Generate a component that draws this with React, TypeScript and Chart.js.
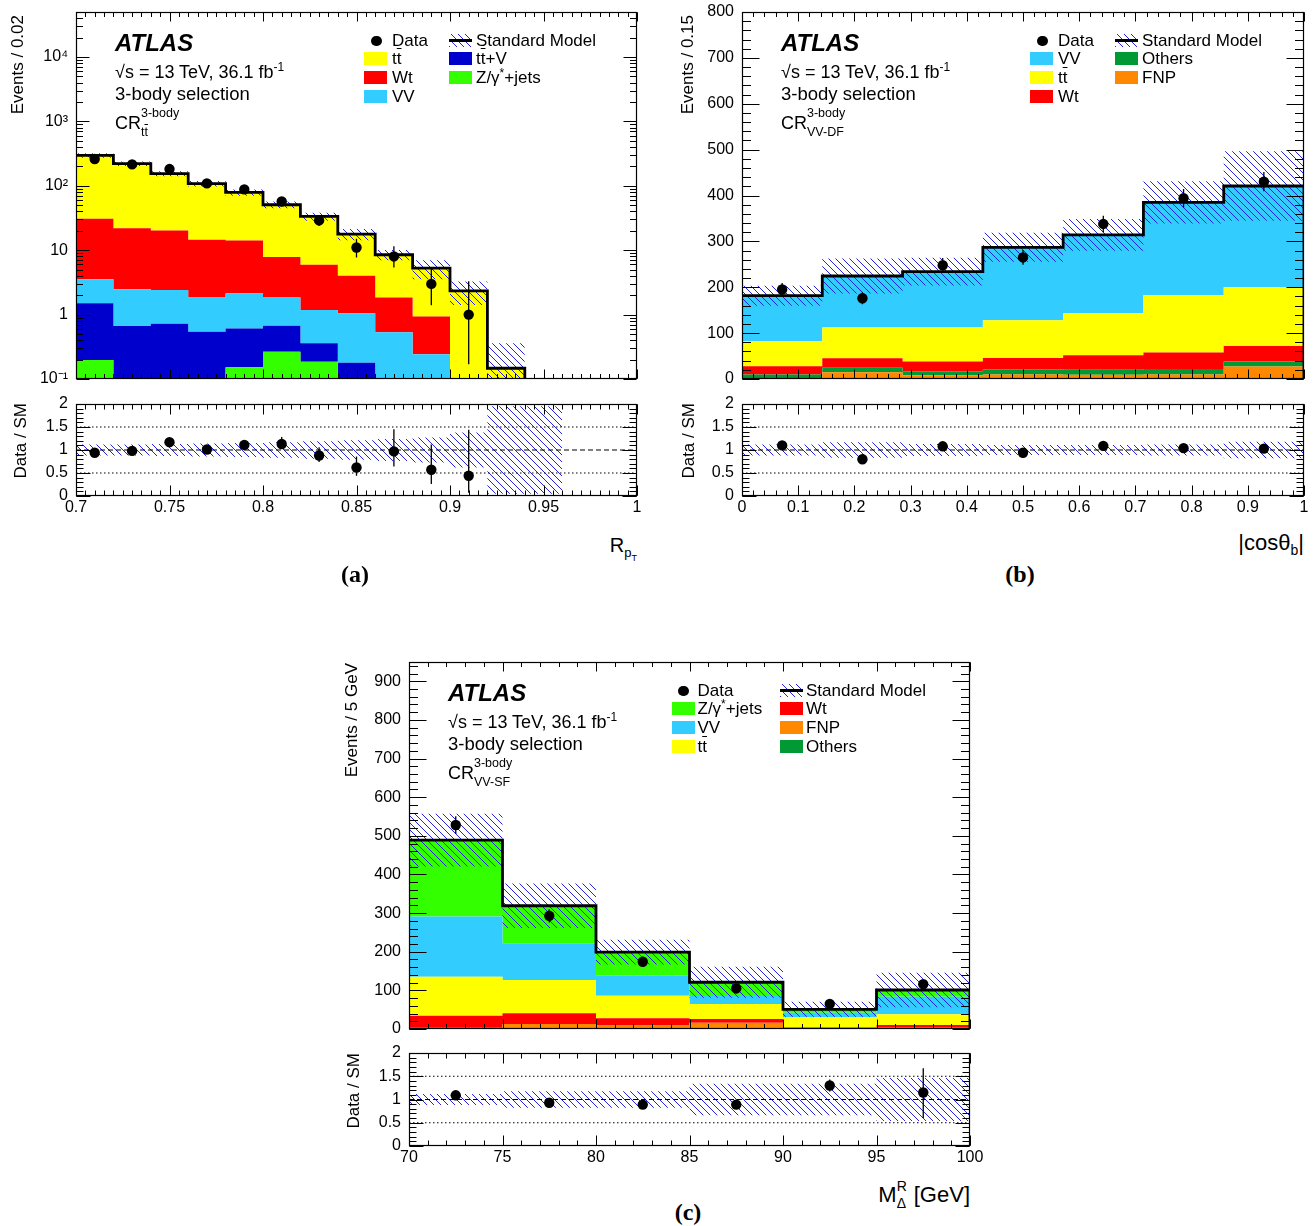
import React, { useEffect, useRef } from 'react';
import { Chart, registerables } from 'chart.js';

Chart.register(...registerables);

const W = 1316;
const H = 1226;
const SANS = '"Liberation Sans", Arial, Helvetica, sans-serif';
const SERIF = '"Liberation Serif", "Times New Roman", Times, serif';

/* ---------------- panel (a): R_pT in CR_tt (log scale) ---------------- */
const binEdgesA = [0.70, 0.72, 0.74, 0.76, 0.78, 0.80, 0.82, 0.84, 0.86, 0.88, 0.90, 0.92, 0.94];
const zjetsA = [0.197, 0, 0, 0, 0.152, 0.266, 0.186, 0, 0, 0, 0, 0];
const ttVA = [1.30, 0.667, 0.72, 0.54, 0.458, 0.404, 0.174, 0.179, 0, 0, 0, 0];
const vvA = [2.05, 1.81, 1.70, 1.30, 1.54, 1.17, 0.82, 0.87, 0.53, 0.242, 0, 0];
const wtA = [27.2, 19.5, 17.9, 12.7, 12.0, 6.0, 4.75, 2.95, 1.31, 0.69, 0, 0];
const ttbarA = [266, 199, 134, 93.5, 64.8, 43, 27.5, 13.8, 6.66, 4.34, 2.34, 0.147];
const dataA = [261, 215, 182, 109, 88, 57, 29, 11, 8, 3, 1];
const dataLoA = [245, 201, 169, 99, 79, 50, 24, 7.7, 5.4, 1.4, 0.17];
const dataHiA = [277, 230, 196, 120, 98, 65, 35, 15, 11.5, 5.3, 3.3];
const systA = [0.08, 0.08, 0.09, 0.10, 0.11, 0.12, 0.14, 0.20, 0.18, 0.33, 0.40, 1.45];
const ratioA = [0.94, 0.98, 1.17, 1.01, 1.11, 1.13, 0.88, 0.62, 0.97, 0.57, 0.44];
const ratioLoA = [0.88, 0.92, 1.10, 0.93, 1.02, 1.03, 0.74, 0.44, 0.64, 0.26, 0.07];
const ratioHiA = [1.00, 1.04, 1.24, 1.09, 1.20, 1.28, 1.06, 0.86, 1.45, 1.12, 1.44];
const ratioBandEdgesA = [0.70, 0.72, 0.74, 0.76, 0.78, 0.80, 0.82, 0.84, 0.86, 0.88, 0.90, 0.92, 0.96];
const ratioBandA = [0.12, 0.12, 0.13, 0.14, 0.15, 0.17, 0.19, 0.21, 0.24, 0.27, 0.38, 0.95];
const xTicksA = [0.7, 0.75, 0.8, 0.85, 0.9, 0.95, 1];
const xLabelsA = ['0.7', '0.75', '0.8', '0.85', '0.9', '0.95', '1'];
const yTicksA = [0.1, 1, 10, 100, 1000, 10000];
const yLabelsA = ['10\u207B\u00B9', '1', '10', '10\u00B2', '10\u00B3', '10\u2074'];

/* ---------------- panel (b): |cos theta_b| in CR_VV-DF ---------------- */
const binEdgesB = [0, 0.142857, 0.285714, 0.428571, 0.571429, 0.714286, 0.857143, 1];
const fnpB = [1, 14.5, 8, 10, 9, 10, 27];
const othersB = [9, 10, 9, 11, 11, 12, 11];
const wtB = [18, 20.5, 21, 25, 32, 36, 34];
const ttbarB = [55, 67, 74, 82, 92, 125, 128];
const vvB = [98.6, 112.5, 122, 159, 170, 202, 220.7];
const dataB = [195, 176, 248, 265, 338, 394, 430];
const dataErrB = [14, 13, 16, 16, 18, 20, 21];
const systB = [0.12, 0.17, 0.13, 0.11, 0.11, 0.12, 0.18];
const ratioB = [1.1, 0.8, 1.08, 0.94, 1.09, 1.04, 1.03];
const ratioErrB = [0.08, 0.06, 0.07, 0.06, 0.06, 0.05, 0.05];
const ratioBandB = [0.12, 0.17, 0.13, 0.11, 0.11, 0.12, 0.18];
const xTicksB = [0, 0.1, 0.2, 0.3, 0.4, 0.5, 0.6, 0.7, 0.8, 0.9, 1];
const xLabelsB = ['0', '0.1', '0.2', '0.3', '0.4', '0.5', '0.6', '0.7', '0.8', '0.9', '1'];
const yTicksB = [0, 100, 200, 300, 400, 500, 600, 700, 800];
const yLabelsB = ['0', '100', '200', '300', '400', '500', '600', '700', '800'];

/* ---------------- panel (c): M_Delta^R in CR_VV-SF ---------------- */
const binEdgesC = [70, 75, 80, 85, 90, 95, 100];
const othersC = [3, 1, 1, 1, 1, 2];
const fnpC = [0, 12, 8, 15, 1, 1];
const wtC = [31, 28, 19, 10, 2, 7.5];
const ttbarC = [101, 86, 58, 39, 26, 28];
const vvC = [156, 95, 52, 23, 12, 45];
const zjetsC = [198, 97, 61, 33, 9, 17.5];
const dataC = [528, 293, 174, 105, 65, 116];
const dataErrC = [23, 17, 13, 10, 8, 11];
const systC = [0.14, 0.18, 0.16, 0.33, 0.38, 0.44];
const ratioC = [1.09, 0.93, 0.89, 0.89, 1.3, 1.15];
const ratioLoC = [1.04, 0.87, 0.82, 0.80, 1.17, 0.60];
const ratioHiC = [1.14, 0.99, 0.96, 0.98, 1.43, 1.67];
const ratioBandC = [0.12, 0.18, 0.18, 0.34, 0.34, 0.46];
const xTicksC = [70, 75, 80, 85, 90, 95, 100];
const xLabelsC = ['70', '75', '80', '85', '90', '95', '100'];
const yTicksC = [0, 100, 200, 300, 400, 500, 600, 700, 800, 900];
const yLabelsC = ['0', '100', '200', '300', '400', '500', '600', '700', '800', '900'];

/* ---------------- ratio axis ---------------- */
const ratioTicks = [0, 0.5, 1, 1.5, 2];
const ratioLabels = ['0', '0.5', '1', '1.5', '2'];
const ratioRefLines = [0.5, 1, 1.5];

/* ---------------- colours ---------------- */
const C_TT = '#ffff00';
const C_WT = '#ff0000';
const C_VV = '#33ccff';
const C_TTV = '#0000cc';
const C_Z = '#33ff00';
const C_OTH = '#009933';
const C_FNP = '#ff8800';
const HATCH_COL = 'rgb(35,35,225)';

/* ---------------- layout ---------------- */
type Rect = [number, number, number, number];
const RECT: Record<string, Rect> = {
  aMain: [76, 12, 637, 379],
  aRatio: [76, 404, 637, 496],
  bMain: [742, 12, 1304, 379],
  bRatio: [742, 404, 1304, 496],
  cMain: [409, 662, 970, 1029],
  cRatio: [409, 1053, 970, 1146],
};
const PADL = 70, PADT = 22, PADR = 26, PADB = 30;

function makeHatch(): any {
  const s = 7;
  const c = document.createElement('canvas');
  c.width = s;
  c.height = s;
  const g = c.getContext('2d');
  if (!g) return 'rgba(40,40,230,0.4)';
  g.strokeStyle = HATCH_COL;
  g.lineWidth = 1;
  g.beginPath();
  g.moveTo(0, 0); g.lineTo(s, s);
  g.moveTo(-1, s - 1); g.lineTo(1, s + 1);
  g.moveTo(s - 1, -1); g.lineTo(s + 1, 1);
  g.stroke();
  return g.createPattern(c, 'repeat') || 'rgba(40,40,230,0.4)';
}

function steps(edges: number[], vals: number[]) {
  const pts: any[] = vals.map((v, i) => ({ x: edges[i], y: v }));
  pts.push({ x: edges[vals.length], y: vals[vals.length - 1] });
  return pts;
}

function seq(a: number, b: number, step: number): number[] {
  const out: number[] = [];
  const n = Math.round((b - a) / step);
  for (let i = 0; i <= n; i++) out.push(+(a + i * step).toFixed(6));
  return out;
}

function logMinor(min: number, max: number): number[] {
  const out: number[] = [];
  for (let e = -2; e <= 5; e++) {
    for (let k = 2; k <= 9; k++) {
      const v = k * Math.pow(10, e);
      if (v > min && v < max) out.push(v);
    }
  }
  return out;
}

interface Axis {
  min: number; max: number; ticks: number[]; labels: string[]; minor: number[];
  log?: boolean; show: boolean; maj: number; mn: number;
}

function framePlugin(x: Axis, y: Axis) {
  return {
    id: 'rootFrame',
    afterDatasetsDraw(chart: any) {
      const { ctx, chartArea: a } = chart;
      const xs = chart.scales.x;
      const ys = chart.scales.y;
      const L = Math.round(a.left) + 0.5;
      const R = Math.round(a.right) - 0.5;
      const T = Math.round(a.top) + 0.5;
      const B = Math.round(a.bottom) - 0.5;
      ctx.save();
      ctx.strokeStyle = '#000';
      ctx.lineWidth = 1;
      ctx.beginPath();
      const xt = (v: number, len: number) => {
        const p = Math.round(xs.getPixelForValue(v)) + 0.5;
        if (p < L - 1 || p > R + 1) return;
        ctx.moveTo(p, B); ctx.lineTo(p, B - len);
        ctx.moveTo(p, T); ctx.lineTo(p, T + len);
      };
      const yt = (v: number, len: number) => {
        const p = Math.round(ys.getPixelForValue(v)) + 0.5;
        if (p < T - 1 || p > B + 1) return;
        ctx.moveTo(L, p); ctx.lineTo(L + len, p);
        ctx.moveTo(R, p); ctx.lineTo(R - len, p);
      };
      x.ticks.forEach((v) => xt(v, x.maj));
      x.minor.forEach((v) => xt(v, x.mn));
      y.ticks.forEach((v) => yt(v, y.maj));
      y.minor.forEach((v) => yt(v, y.mn));
      ctx.stroke();
      ctx.lineWidth = 1.2;
      ctx.strokeRect(L, T, R - L, B - T);
      ctx.restore();
    },
  };
}

function baseOptions(x: Axis, y: Axis) {
  return {
    responsive: false,
    maintainAspectRatio: false,
    animation: false,
    devicePixelRatio: 1,
    events: [],
    layout: { padding: { left: 0, top: PADT, right: PADR, bottom: 0 } },
    plugins: { legend: { display: false }, tooltip: { enabled: false } },
    scales: {
      x: {
        type: 'linear',
        min: x.min,
        max: x.max,
        afterBuildTicks: (s: any) => { s.ticks = x.ticks.map((v) => ({ value: v })); },
        afterFit: (s: any) => { s.height = PADB; },
        ticks: {
          display: x.show, autoSkip: false, maxRotation: 0, minRotation: 0, padding: 2,
          font: { size: 16, family: SANS }, color: '#000',
          callback: (_v: any, i: number) => x.labels[i],
        },
        grid: { display: false, drawTicks: false },
        border: { display: false },
      },
      y: {
        type: y.log ? 'logarithmic' : 'linear',
        min: y.min,
        max: y.max,
        afterBuildTicks: (s: any) => { s.ticks = y.ticks.map((v) => ({ value: v })); },
        afterFit: (s: any) => { s.width = PADL; },
        ticks: {
          display: y.show, autoSkip: false, padding: 8,
          font: { size: 16, family: SANS }, color: '#000',
          callback: (_v: any, i: number) => y.labels[i],
        },
        grid: { display: false, drawTicks: false },
        border: { display: false },
      },
    },
  };
}

function errorBarSet(centers: number[], lo: number[], hi: number[]) {
  const pts: any[] = [];
  centers.forEach((c, i) => {
    pts.push({ x: c, y: lo[i] }, { x: c, y: hi[i] }, { x: c, y: null });
  });
  return {
    data: pts, borderColor: '#000', borderWidth: 1.3, pointRadius: 0, fill: false,
    spanGaps: false, order: 1,
  };
}

function pointSet(centers: number[], vals: number[]) {
  return {
    data: centers.map((c, i) => ({ x: c, y: vals[i] })),
    showLine: false, pointRadius: 5.2, pointBackgroundColor: '#000', pointBorderColor: '#000',
    pointBorderWidth: 0, borderWidth: 0, order: 0,
  };
}

interface Comp { vals: number[]; color: string; }

function mainConfig(edges: number[], comps: Comp[], data: number[], lo: number[], hi: number[],
  syst: number[], x: Axis, y: Axis, hatch: any) {
  const fl = (v: number) => (y.log ? Math.max(v, 1e-4) : v);
  const cum: number[][] = [];
  comps.forEach((c, k) => cum.push(c.vals.map((v, i) => v + (k ? cum[k - 1][i] : 0))));
  const sm = cum[cum.length - 1];
  const n = sm.length;
  const datasets: any[] = [];
  comps.forEach((c, k) => datasets.push({
    data: steps(edges, cum[k].map(fl)), stepped: true, fill: k === 0 ? 'start' : '-1',
    backgroundColor: c.color, borderColor: 'transparent', borderWidth: 0, pointRadius: 0, order: 10,
  }));
  datasets.push({
    data: steps(edges, sm.map((v, i) => v * (1 + syst[i]))), stepped: true, fill: false,
    borderColor: 'transparent', borderWidth: 0, pointRadius: 0, order: 5,
  });
  datasets.push({
    data: steps(edges, sm.map((v, i) => fl(v * (1 - syst[i])))), stepped: true, fill: '-1',
    backgroundColor: hatch, borderColor: 'transparent', borderWidth: 0, pointRadius: 0, order: 5,
  });
  const smPts = steps(edges, sm.map(fl));
  smPts.push({ x: edges[n], y: fl(0) });
  datasets.push({
    data: smPts, stepped: true, fill: false, borderColor: '#000', borderWidth: 2.8,
    pointRadius: 0, order: 2, borderJoinStyle: 'miter', borderCapStyle: 'butt',
  });
  const centers = data.map((_, i) => (edges[i] + edges[i + 1]) / 2);
  datasets.push(errorBarSet(centers, lo, hi));
  datasets.push(pointSet(centers, data));
  return { type: 'line', data: { datasets }, options: baseOptions(x, y), plugins: [framePlugin(x, y)] };
}

function ratioConfig(bandEdges: number[], band: number[], edges: number[], r: number[], lo: number[],
  hi: number[], x: Axis, y: Axis, hatch: any) {
  const datasets: any[] = [];
  datasets.push({
    data: steps(bandEdges, band.map((u) => 1 + u)), stepped: true, fill: false,
    borderColor: 'transparent', borderWidth: 0, pointRadius: 0, order: 5,
  });
  datasets.push({
    data: steps(bandEdges, band.map((u) => Math.max(1 - u, 0))), stepped: true, fill: '-1',
    backgroundColor: hatch, borderColor: 'transparent', borderWidth: 0, pointRadius: 0, order: 5,
  });
  ratioRefLines.forEach((v) => datasets.push({
    data: [{ x: x.min, y: v }, { x: x.max, y: v }], fill: false, borderColor: '#000',
    borderWidth: 1, borderDash: v === 1 ? [5, 3] : [1.5, 2.5], pointRadius: 0, order: 3,
  }));
  const centers = r.map((_, i) => (edges[i] + edges[i + 1]) / 2);
  datasets.push(errorBarSet(centers, lo, hi));
  datasets.push(pointSet(centers, r));
  return { type: 'line', data: { datasets }, options: baseOptions(x, y), plugins: [framePlugin(x, y)] };
}

/* ---------------- axes ---------------- */
const axXA = (show: boolean, ratio: boolean): Axis => ({
  min: 0.7, max: 1, ticks: xTicksA, labels: xLabelsA, minor: seq(0.7, 1, 0.005), show,
  maj: ratio ? 10 : 9, mn: ratio ? 5 : 4.5,
});
const axXB = (show: boolean, ratio: boolean): Axis => ({
  min: 0, max: 1, ticks: xTicksB, labels: xLabelsB, minor: seq(0, 1, 0.02), show,
  maj: ratio ? 10 : 9, mn: ratio ? 5 : 4.5,
});
const axXC = (show: boolean, ratio: boolean): Axis => ({
  min: 70, max: 100, ticks: xTicksC, labels: xLabelsC, minor: seq(70, 100, 1), show,
  maj: ratio ? 10 : 9, mn: ratio ? 5 : 4.5,
});
const axRatio: Axis = {
  min: 0, max: 2, ticks: ratioTicks, labels: ratioLabels, minor: seq(0, 2, 0.1), show: true, maj: 14, mn: 7,
};

const buildAMain = (h: any) => mainConfig(binEdgesA,
  [{ vals: zjetsA, color: C_Z }, { vals: ttVA, color: C_TTV }, { vals: vvA, color: C_VV },
   { vals: wtA, color: C_WT }, { vals: ttbarA, color: C_TT }],
  dataA, dataLoA, dataHiA, systA, axXA(false, false),
  { min: 0.1, max: 50000, log: true, ticks: yTicksA, labels: yLabelsA, minor: logMinor(0.1, 50000), show: true, maj: 13, mn: 6.5 },
  h);
const buildARatio = (h: any) => ratioConfig(ratioBandEdgesA, ratioBandA, binEdgesA, ratioA, ratioLoA, ratioHiA,
  axXA(true, true), axRatio, h);

const buildBMain = (h: any) => mainConfig(binEdgesB,
  [{ vals: fnpB, color: C_FNP }, { vals: othersB, color: C_OTH }, { vals: wtB, color: C_WT },
   { vals: ttbarB, color: C_TT }, { vals: vvB, color: C_VV }],
  dataB, dataB.map((v, i) => v - dataErrB[i]), dataB.map((v, i) => v + dataErrB[i]), systB, axXB(false, false),
  { min: 0, max: 800, ticks: yTicksB, labels: yLabelsB, minor: seq(0, 800, 20), show: true, maj: 17, mn: 8.5 },
  h);
const buildBRatio = (h: any) => ratioConfig(binEdgesB, ratioBandB, binEdgesB, ratioB,
  ratioB.map((v, i) => v - ratioErrB[i]), ratioB.map((v, i) => v + ratioErrB[i]), axXB(true, true), axRatio, h);

const buildCMain = (h: any) => mainConfig(binEdgesC,
  [{ vals: othersC, color: C_OTH }, { vals: fnpC, color: C_FNP }, { vals: wtC, color: C_WT },
   { vals: ttbarC, color: C_TT }, { vals: vvC, color: C_VV }, { vals: zjetsC, color: C_Z }],
  dataC, dataC.map((v, i) => v - dataErrC[i]), dataC.map((v, i) => v + dataErrC[i]), systC, axXC(false, false),
  { min: 0, max: 950, ticks: yTicksC, labels: yLabelsC, minor: seq(0, 940, 20), show: true, maj: 17, mn: 8.5 },
  h);
const buildCRatio = (h: any) => ratioConfig(binEdgesC, ratioBandC, binEdgesC, ratioC, ratioLoC, ratioHiC,
  axXC(true, true), axRatio, h);

/* ---------------- components ---------------- */
function ChartBox({ rect, build }: { rect: Rect; build: (h: any) => any }) {
  const ref = useRef<HTMLCanvasElement>(null);
  useEffect(() => {
    if (!ref.current) return;
    const chart = new Chart(ref.current, build(makeHatch()));
    return () => chart.destroy();
  }, []);
  const [L, T, R, B] = rect;
  const w = R - L + PADL + PADR;
  const h = B - T + PADT + PADB;
  return (
    <canvas ref={ref} width={w} height={h}
      style={{ position: 'absolute', left: L - PADL, top: T - PADT, width: w, height: h }} />
  );
}

function Txt({ x, base, size, children, align = 'left', family = SANS, weight = 400, italic = false }: any) {
  const k = family === SERIF ? 0.84 : 0.8465;
  const style: any = {
    position: 'absolute', top: base - k * size, fontSize: size, lineHeight: `${size}px`,
    fontFamily: family, fontWeight: weight, fontStyle: italic ? 'italic' : 'normal',
    whiteSpace: 'nowrap', color: '#000',
  };
  if (align === 'left') style.left = x;
  else if (align === 'right') style.right = W - x;
  else { style.left = x; style.transform = 'translateX(-50%)'; }
  return <div style={style}>{children}</div>;
}

function SupSub({ sup, sub, size, supDy, subDy, w }: any) {
  const piece = (dy: number, content: any) => (
    <span style={{ position: 'absolute', left: 0, top: dy - 0.8465 * size, fontSize: size,
      lineHeight: `${size}px`, whiteSpace: 'nowrap' }}>{content}</span>
  );
  return (
    <span style={{ display: 'inline-block', position: 'relative', width: w, height: 0 }}>
      {piece(supDy, sup)}
      {piece(subDy, sub)}
    </span>
  );
}

const Tbar = () => (<span>t<span style={{ textDecoration: 'overline' }}>t</span></span>);

function VTitle({ xc, top, size, children }: any) {
  return (
    <div style={{ position: 'absolute', left: xc - size / 2, top, writingMode: 'vertical-rl',
      transform: 'rotate(180deg)', fontSize: size, lineHeight: `${size}px`, whiteSpace: 'nowrap',
      fontFamily: SANS }}>{children}</div>
  );
}

function AtlasBlock({ ox, oy, region }: any) {
  const x = ox + 39;
  return (
    <>
      <Txt x={x} base={oy + 39} size={24} weight={700} italic>ATLAS</Txt>
      <Txt x={x} base={oy + 66} size={18}>
        {'\u221As = 13 TeV, 36.1 fb'}<span style={{ fontSize: 12, position: 'relative', top: -7 }}>-1</span>
      </Txt>
      <Txt x={x} base={oy + 89} size={18.5}>3-body selection</Txt>
      <Txt x={x} base={oy + 117} size={18}>
        CR<SupSub sup="3-body" sub={region} size={12.5} supDy={-11} subDy={8} w={40} />
      </Txt>
    </>
  );
}

const HATCH_CSS = `repeating-linear-gradient(45deg, ${HATCH_COL} 0px, ${HATCH_COL} 1px, transparent 1px, transparent 4.95px)`;
const ROWS = [28.7, 46.3, 65, 84];

function Legend({ ox, oy, cols, items }: any) {
  const out: any[] = [];
  items.forEach((it: any, idx: number) => {
    const col = cols[it.col];
    const cy = oy + ROWS[it.row];
    if (it.kind === 'data') {
      out.push(<div key={`m${idx}`} style={{ position: 'absolute', left: ox + col.mk - 5.2, top: cy - 5.2,
        width: 10.4, height: 10.4, borderRadius: '50%', background: '#000' }} />);
    } else if (it.kind === 'sm') {
      out.push(
        <div key={`s${idx}`} style={{ position: 'absolute', left: ox + col.sw, top: cy - 6.5, width: 23,
          height: 13, backgroundImage: HATCH_CSS }}>
          <div style={{ position: 'absolute', left: 0, top: 5.25, width: 23, height: 2.5, background: '#000' }} />
        </div>);
    } else {
      out.push(<div key={`b${idx}`} style={{ position: 'absolute', left: ox + col.sw, top: cy - 6.5,
        width: 23, height: 13, background: it.color }} />);
    }
    out.push(<Txt key={`t${idx}`} x={ox + col.tx} base={cy + 6} size={17}>{it.label}</Txt>);
  });
  return <>{out}</>;
}

const colsAB = [{ sw: 288, mk: 300.5, tx: 316 }, { sw: 373, mk: 384.5, tx: 400 }];
const colsC = [{ sw: 263, mk: 274.5, tx: 288.5 }, { sw: 371, mk: 382.5, tx: 397 }];
const Zlabel = (<span>Z/{'\u03B3'}<span style={{ fontSize: 12, position: 'relative', top: -6 }}>*</span>+jets</span>);

const legendA = [
  { kind: 'data', label: 'Data', col: 0, row: 0 },
  { kind: 'sm', label: 'Standard Model', col: 1, row: 0 },
  { kind: 'box', color: C_TT, label: <Tbar />, col: 0, row: 1 },
  { kind: 'box', color: C_TTV, label: <span><Tbar />+V</span>, col: 1, row: 1 },
  { kind: 'box', color: C_WT, label: 'Wt', col: 0, row: 2 },
  { kind: 'box', color: C_Z, label: Zlabel, col: 1, row: 2 },
  { kind: 'box', color: C_VV, label: 'VV', col: 0, row: 3 },
];
const legendB = [
  { kind: 'data', label: 'Data', col: 0, row: 0 },
  { kind: 'sm', label: 'Standard Model', col: 1, row: 0 },
  { kind: 'box', color: C_VV, label: 'VV', col: 0, row: 1 },
  { kind: 'box', color: C_OTH, label: 'Others', col: 1, row: 1 },
  { kind: 'box', color: C_TT, label: <Tbar />, col: 0, row: 2 },
  { kind: 'box', color: C_FNP, label: 'FNP', col: 1, row: 2 },
  { kind: 'box', color: C_WT, label: 'Wt', col: 0, row: 3 },
];
const legendC = [
  { kind: 'data', label: 'Data', col: 0, row: 0 },
  { kind: 'sm', label: 'Standard Model', col: 1, row: 0 },
  { kind: 'box', color: C_Z, label: Zlabel, col: 0, row: 1 },
  { kind: 'box', color: C_WT, label: 'Wt', col: 1, row: 1 },
  { kind: 'box', color: C_VV, label: 'VV', col: 0, row: 2 },
  { kind: 'box', color: C_FNP, label: 'FNP', col: 1, row: 2 },
  { kind: 'box', color: C_TT, label: <Tbar />, col: 0, row: 3 },
  { kind: 'box', color: C_OTH, label: 'Others', col: 1, row: 3 },
];

export default function App() {
  return (
    <div style={{ position: 'absolute', left: 0, top: 0, width: W, height: H, background: '#fff',
      overflow: 'hidden', fontFamily: SANS, color: '#000' }}>
      <ChartBox rect={RECT.aMain} build={buildAMain} />
      <ChartBox rect={RECT.aRatio} build={buildARatio} />
      <ChartBox rect={RECT.bMain} build={buildBMain} />
      <ChartBox rect={RECT.bRatio} build={buildBRatio} />
      <ChartBox rect={RECT.cMain} build={buildCMain} />
      <ChartBox rect={RECT.cRatio} build={buildCRatio} />

      <AtlasBlock ox={76} oy={12} region={<Tbar />} />
      <AtlasBlock ox={742} oy={12} region="VV-DF" />
      <AtlasBlock ox={409} oy={662} region="VV-SF" />

      <Legend ox={76} oy={12} cols={colsAB} items={legendA} />
      <Legend ox={742} oy={12} cols={colsAB} items={legendB} />
      <Legend ox={409} oy={662} cols={colsC} items={legendC} />

      <VTitle xc={17} top={15} size={17}>Events / 0.02</VTitle>
      <VTitle xc={20} top={403} size={17}>Data / SM</VTitle>
      <VTitle xc={687} top={15} size={17}>Events / 0.15</VTitle>
      <VTitle xc={688} top={403} size={17}>Data / SM</VTitle>
      <VTitle xc={351} top={663} size={17}>Events / 5 GeV</VTitle>
      <VTitle xc={353} top={1053} size={17}>Data / SM</VTitle>

      <Txt x={637} base={552} size={20} align="right">
        R<span style={{ fontSize: 13, position: 'relative', top: 5 }}>p<span style={{ fontSize: 9, position: 'relative', top: 4 }}>T</span></span>
      </Txt>
      <Txt x={1304} base={551} size={22} align="right">
        |cos{'\u03B8'}<span style={{ fontSize: 14, position: 'relative', top: 5 }}>b</span>|
      </Txt>
      <Txt x={970} base={1203} size={22} align="right">
        M<SupSub sup="R" sub={'\u0394'} size={14} supDy={-12} subDy={5} w={11} /> [GeV]
      </Txt>

      <Txt x={355} base={582} size={24} align="center" family={SERIF} weight={700}>(a)</Txt>
      <Txt x={1020} base={582} size={24} align="center" family={SERIF} weight={700}>(b)</Txt>
      <Txt x={688} base={1220} size={24} align="center" family={SERIF} weight={700}>(c)</Txt>
    </div>
  );
}
